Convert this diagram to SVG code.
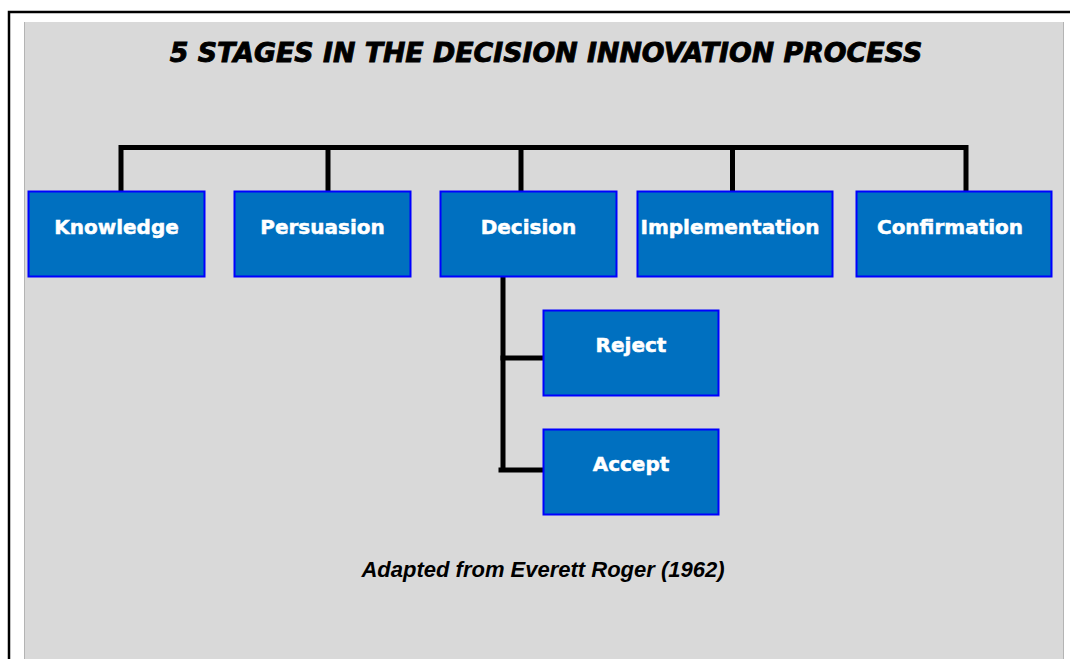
<svg xmlns="http://www.w3.org/2000/svg" width="1070" height="659" viewBox="0 0 1070 659">
  <style>
    .box { fill: #0070c0; stroke: #0000ff; stroke-width: 2; }
    .lbl { font-family: "DejaVu Sans", "Liberation Sans", sans-serif; font-weight: bold; font-size: 20px; fill: #ffffff; stroke: #ffffff; stroke-width: 0.5; text-anchor: middle; }
    .wire { fill: none; stroke: #000000; stroke-width: 5; stroke-linecap: square; stroke-linejoin: miter; }
    .title { font-family: "DejaVu Sans", "Liberation Sans", sans-serif; font-weight: bold; font-style: italic; font-size: 26.8px; fill: #000000; stroke: #000000; stroke-width: 0.9; text-anchor: middle; }
    .credit { font-family: "Liberation Sans", Arial, sans-serif; font-weight: bold; font-style: italic; font-size: 22px; fill: #000000; text-anchor: middle; }
  </style>

  <!-- page background and frame -->
  <rect x="0" y="0" width="1070" height="659" fill="#ffffff"/>
  <path d="M9 659 V12 H1070" fill="none" stroke="#000000" stroke-width="2.5"/>
  <rect x="24" y="22" width="1039.5" height="637" fill="#d9d9d9"/>
  <line x1="24.5" y1="22" x2="24.5" y2="659" stroke="#b4b4b4" stroke-width="1"/>
  <line x1="1063.5" y1="22" x2="1063.5" y2="659" stroke="#b4b4b4" stroke-width="1"/>

  <text class="title" x="546" y="62">5 STAGES IN THE DECISION INNOVATION PROCESS</text>

  <!-- connectors -->
  <g id="connectors">
    <path class="wire" d="M121 191 V147.5 H966 V191"/>
    <line class="wire" x1="328" y1="147.5" x2="328" y2="189"/>
    <line class="wire" x1="521" y1="147.5" x2="521" y2="189"/>
    <line class="wire" x1="732.5" y1="147.5" x2="732.5" y2="189"/>
    <line class="wire" x1="503" y1="279" x2="503" y2="468"/>
    <line class="wire" x1="503" y1="358" x2="541" y2="358"/>
    <line class="wire" x1="501" y1="470" x2="541" y2="470"/>
  </g>

  <!-- stage nodes -->
  <g id="knowledge">
    <rect class="box" x="28.5" y="191.5" width="176" height="85"/>
    <text class="lbl" x="116.5" y="234">Knowledge</text>
  </g>
  <g id="persuasion">
    <rect class="box" x="234.5" y="191.5" width="176" height="85"/>
    <text class="lbl" x="322.5" y="234">Persuasion</text>
  </g>
  <g id="decision">
    <rect class="box" x="440.5" y="191.5" width="176" height="85"/>
    <text class="lbl" x="528.5" y="234">Decision</text>
  </g>
  <g id="implementation">
    <rect class="box" x="637.5" y="191.5" width="195" height="85"/>
    <text class="lbl" x="730" y="234">Implementation</text>
  </g>
  <g id="confirmation">
    <rect class="box" x="856.5" y="191.5" width="195" height="85"/>
    <text class="lbl" x="950" y="234">Confirmation</text>
  </g>

  <!-- decision outcomes -->
  <g id="reject">
    <rect class="box" x="543.5" y="310.5" width="175" height="85"/>
    <text class="lbl" x="631" y="352">Reject</text>
  </g>
  <g id="accept">
    <rect class="box" x="543.5" y="429.5" width="175" height="85"/>
    <text class="lbl" x="631" y="471">Accept</text>
  </g>

  <text class="credit" x="543" y="577">Adapted from Everett Roger (1962)</text>
</svg>
